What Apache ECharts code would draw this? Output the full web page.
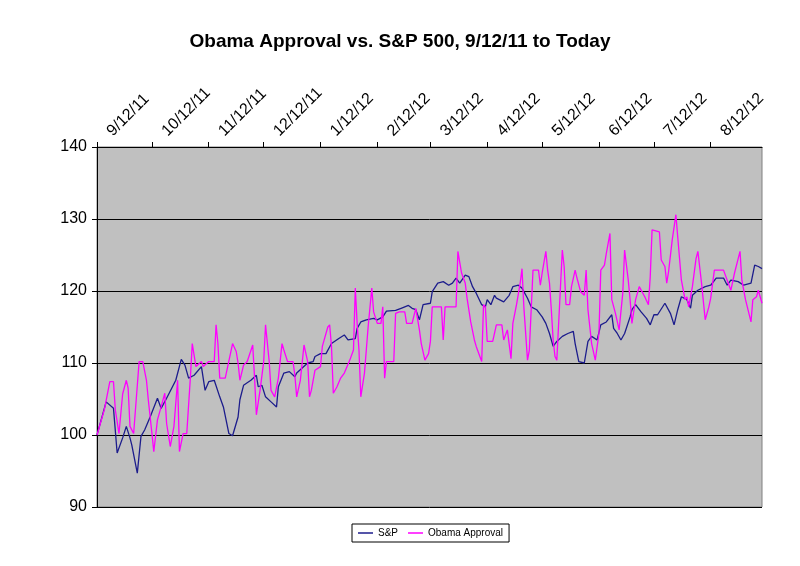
<!DOCTYPE html>
<html>
<head>
<meta charset="utf-8">
<script src="https://cdn.jsdelivr.net/npm/echarts@6/dist/echarts.min.js"></script>
<style>
html,body{margin:0;padding:0;background:#fff;}
#chart{width:800px;height:566px;}
</style>
</head>
<body>
<div id="chart"></div>
<script>
// Daily category axis: 9/12/11 onward
const startYear = 2011, startMonth = 8, startDay = 12, dayCount = 364;
const categories = [];
for (let i = 0; i < dayCount; i++) {
  const dt = new Date(startYear, startMonth, startDay + i);
  categories.push((dt.getMonth() + 1) + '/' + dt.getDate() + '/' + String(dt.getFullYear()).slice(2));
}
const tickDayOfMonth = 12;

// S&P 500 (indexed to 100 on 9/12/11), day offsets and values
const spDays = [0,5,9,11,14,16,18,19,22,24,26,29,33,35,38,43,46,48,50,53,57,59,61,64,67,69,72,74,77,78,80,84,87,88,90,92,95,98,99,102,105,108,109,112,115,118,119,122,125,128,132,135,137,141,142,144,147,151,153,156,158,163,166,170,172,174,176,178,182,183,186,189,192,194,196,198,201,203,205,207,210,212,213,215,217,218,222,225,227,230,232,235,237,240,243,245,247,249,251,254,257,260,261,263,266,268,270,271,273,275,278,281,282,284,286,288,291,292,294,297,300,302,304,306,310,313,315,317,319,322,324,325,328,332,335,338,342,344,346,350,353,357,359,361,363];
const spValues = [100,104.6,103.7,97.5,99.6,101.2,99.6,98.6,94.7,99.8,100.7,102.5,105.1,103.7,105.1,107.6,110.5,109.7,107.9,108.3,109.5,106.2,107.4,107.6,105.3,103.9,100.2,99.9,102.5,104.9,106.9,107.6,108.3,106.7,106.9,105.3,104.6,103.9,106.7,108.6,108.8,108.1,108.6,109.3,110.0,110.2,110.9,111.3,111.3,112.7,113.4,113.9,113.2,113.4,114.8,115.7,116.0,116.2,116.0,116.4,117.2,117.3,117.6,118.0,117.6,117.4,116.0,118.1,118.3,119.9,121.1,121.3,120.8,121.1,121.8,121.1,122.2,122.0,120.6,119.7,118.1,117.8,118.8,118.1,119.4,119.0,118.5,119.4,120.6,120.8,120.4,119.0,117.8,117.4,116.4,115.5,114.1,112.3,113.0,113.7,114.1,114.4,112.7,110.2,110.0,113.0,113.7,113.9,113.2,115.3,115.7,116.7,114.8,114.1,113.2,114.1,116.4,117.4,118.1,117.1,116.2,115.3,116.7,116.7,118.3,116.9,115.3,117.4,119.2,118.8,117.6,119.4,120.1,120.6,120.8,121.8,121.8,120.8,121.5,121.3,120.8,121.1,123.6,123.4,123.1];

// Obama approval (indexed to 100 on 9/12/11), day offsets and values
const approvalDays = [0,1,4,7,9,10,12,14,16,17,18,20,23,25,27,28,30,31,33,35,37,38,40,42,44,45,47,49,51,52,54,57,58,61,64,65,66,67,70,74,76,77,78,80,82,85,86,87,89,91,92,94,95,97,99,101,102,104,107,108,109,111,113,115,116,117,119,122,123,126,127,128,129,131,133,135,138,140,141,142,143,144,146,148,150,151,153,155,156,157,158,162,163,165,168,169,172,174,176,177,179,181,182,183,185,188,189,190,193,196,197,199,201,202,204,206,207,210,211,212,213,216,218,221,222,224,226,227,229,231,232,233,235,236,238,241,242,243,245,246,247,248,249,250,251,253,254,255,256,258,259,261,262,264,266,267,268,270,272,274,275,277,278,280,281,283,285,287,288,290,291,292,294,296,299,301,302,303,307,308,310,311,312,314,316,317,319,321,322,323,325,327,328,330,332,334,335,337,340,342,344,346,348,350,351,352,354,357,358,360,361,363];
const approvalValues = [100,100.2,103.5,107.4,107.4,103.5,100.2,105.7,107.6,106.5,101.2,100.2,110.2,110.2,107.6,104.9,100.2,97.7,102.1,103.9,105.8,101.6,98.4,101.2,107.6,97.7,100.2,100.2,108.1,112.7,109.5,110.2,109.5,110.2,110.2,115.3,112.7,107.9,107.9,112.7,111.6,110.0,107.6,109.7,110.2,112.5,108.0,102.8,106.2,110.2,115.3,110.2,106.2,105.3,107.9,112.7,111.8,110.2,110.2,108.3,105.3,107.6,112.5,110.2,105.3,106.2,109.0,109.5,112.3,115.0,115.3,112.3,105.8,106.7,107.9,108.6,110.4,111.8,120.4,115.5,111.8,105.3,108.6,115.0,120.4,117.1,115.5,115.5,117.8,107.9,110.2,110.2,116.9,117.1,117.1,115.5,115.5,117.6,114.6,112.7,110.4,111.3,113.0,117.8,117.8,117.8,113.2,117.8,117.8,117.8,125.5,122.5,121.1,119.0,115.7,113.2,112.3,110.2,118.1,117.8,113.0,113.0,115.3,115.3,113.2,114.6,110.6,115.5,118.1,121.1,123.1,117.8,110.4,111.8,122.9,122.9,120.8,122.5,125.5,122.9,121.1,117.4,113.2,110.9,110.4,120.6,125.7,123.4,118.1,118.1,120.6,122.9,121.8,119.9,119.4,122.9,117.4,112.7,110.4,114.1,122.9,123.6,125.2,128.0,118.8,116.9,114.6,119.7,125.7,121.5,118.8,115.5,118.8,120.6,119.2,118.1,122.0,128.5,128.2,124.3,123.4,121.1,122.7,127.1,130.6,127.5,121.5,118.8,119.2,117.8,120.6,124.5,125.5,121.1,116.0,117.8,119.0,122.9,122.9,122.9,121.5,120.1,122.5,124.5,125.5,121.5,118.8,115.7,118.8,119.2,120.1,118.3];

const yTicks = { min: 90, max: 140, step: 10 };

function toDaily(days, vals) {
  const arr = new Array(dayCount).fill(null);
  days.forEach((d, i) => { arr[d] = vals[i]; });
  return arr;
}
const isTick = (idx) => Number(categories[idx].split('/')[1]) === tickDayOfMonth;

const chart = echarts.init(document.getElementById('chart'));
chart.setOption({
  animation: false,
  backgroundColor: '#ffffff',
  textStyle: { fontFamily: 'Liberation Sans, Arial, sans-serif' },
  title: {
    text: 'Obama Approval vs. S&P 500, 9/12/11 to Today',
    left: 'center', top: 27,
    textStyle: { fontSize: 19, fontWeight: 'bold', color: '#000', fontFamily: 'Liberation Sans, Arial, sans-serif' }
  },
  legend: {
    data: [{ name: 'S&P', icon: 'rect' }, { name: 'Obama Approval', icon: 'rect' }],
    left: 352, top: 524,
    itemWidth: 15, itemHeight: 1.5, itemGap: 10,
    padding: [4, 6],
    borderColor: '#000', borderWidth: 1, backgroundColor: '#fff',
    textStyle: { fontSize: 10, color: '#000' }
  },
  grid: {
    left: 97, right: 38, top: 147, bottom: 59,
    show: true, backgroundColor: '#c0c0c0', borderColor: '#808080', borderWidth: 1
  },
  xAxis: {
    type: 'category', position: 'top', boundaryGap: false,
    data: categories,
    axisLine: { show: true, lineStyle: { color: '#000', width: 1 } },
    axisTick: { show: true, interval: isTick, length: 5, lineStyle: { color: '#000' } },
    axisLabel: { interval: isTick, rotate: -45, fontSize: 16, color: '#000', margin: 12,
                 verticalAlign: 'top', padding: [0, 0, 0, 10] },
    splitLine: { show: false }
  },
  yAxis: {
    type: 'value', min: yTicks.min, max: yTicks.max, interval: yTicks.step,
    axisLine: { show: true, lineStyle: { color: '#000', width: 1 } },
    axisTick: { show: true, length: 5, lineStyle: { color: '#000' } },
    axisLabel: { fontSize: 16, color: '#000', margin: 10 },
    splitLine: { show: true, lineStyle: { color: '#000', width: 1 } }
  },
  series: [
    {
      name: 'S&P', type: 'line', data: toDaily(spDays, spValues),
      connectNulls: true, showSymbol: false, symbol: 'none',
      lineStyle: { color: '#1c1c8c', width: 1.3 }, itemStyle: { color: '#1c1c8c' }
    },
    {
      name: 'Obama Approval', type: 'line', data: toDaily(approvalDays, approvalValues),
      connectNulls: true, showSymbol: false, symbol: 'none',
      lineStyle: { color: '#ff00ff', width: 1.3 }, itemStyle: { color: '#ff00ff' }
    }
  ]
});
</script>
</body>
</html>
